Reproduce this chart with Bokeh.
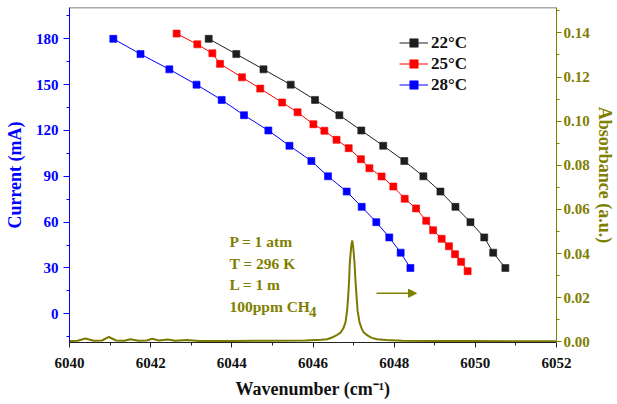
from bokeh.plotting import figure
from bokeh.models import (Range1d, LinearAxis, SingleIntervalTicker, Legend, LegendItem,
                          Label, Arrow, NormalHead, ColumnDataSource, PrintfTickFormatter, Span)
from bokeh.embed import file_html
from bokeh.resources import INLINE

# ---------------- data ----------------
wn_22 = [6043.43, 6044.11, 6044.78, 6045.45, 6046.05, 6046.65, 6047.19, 6047.73,
         6048.25, 6048.72, 6049.14, 6049.51, 6049.88, 6050.22, 6050.44, 6050.74]
cur_22 = [180, 170, 160, 150, 140, 130, 120, 110, 100, 90, 80, 70, 60, 50, 40, 30]

wn_25 = [6042.64, 6043.15, 6043.52, 6043.71, 6044.25, 6044.70, 6045.24, 6045.62,
         6046.01, 6046.28, 6046.58, 6046.88, 6047.18, 6047.39, 6047.69, 6047.98,
         6048.26, 6048.54, 6048.79, 6048.96, 6049.17, 6049.35, 6049.50, 6049.65, 6049.81]
cur_25 = [183.4, 176.4, 170.5, 163.6, 154.8, 147.4, 138.3, 131.9,
          124.1, 119.8, 113.9, 108.4, 101.2, 95.3, 89.9, 83.3,
          75.3, 69.0, 60.9, 54.7, 49.1, 44.2, 39.0, 34.0, 27.9]

wn_28 = [6041.08, 6041.75, 6042.46, 6043.13, 6043.75, 6044.30, 6044.90, 6045.42,
         6045.96, 6046.37, 6046.83, 6047.20, 6047.56, 6047.88, 6048.16, 6048.40]
cur_28 = [180, 170, 160, 150, 140, 130, 120, 110, 100, 90, 80, 70, 60, 50, 40, 30]

spec_wn = [6040.0, 6040.2, 6040.39, 6040.6, 6040.8, 6040.97, 6041.15, 6041.35, 6041.5,
           6041.7, 6041.9, 6042.04, 6042.2, 6042.42, 6042.6, 6042.9, 6043.2, 6044.0,
           6045.0, 6045.8, 6046.2, 6046.35, 6046.5, 6046.6, 6046.68, 6046.75, 6046.80,
           6046.84, 6046.868, 6046.89, 6046.907, 6046.94, 6046.966, 6046.99, 6047.023,
           6047.045, 6047.072, 6047.10, 6047.146, 6047.20, 6047.25, 6047.35, 6047.45,
           6047.58, 6047.8, 6048.2, 6049.0, 6050.0, 6051.0, 6052.0]
spec_abs = [0.0004, 0.0005, 0.0015, 0.0005, 0.0006, 0.0022, 0.0006, 0.0005, 0.0012,
            0.0005, 0.0006, 0.0014, 0.0006, 0.0011, 0.0005, 0.0008, 0.0004, 0.0004,
            0.0005, 0.0006, 0.0009, 0.0012, 0.0022, 0.0032, 0.0042, 0.0062, 0.0088,
            0.0140, 0.0208, 0.0280, 0.0358, 0.0430, 0.0460, 0.0432, 0.0358,
            0.0280, 0.0208, 0.0140, 0.0088, 0.0060, 0.0042, 0.0028, 0.0018,
            0.0012, 0.0008, 0.0005, 0.0004, 0.0004, 0.0003, 0.0003]

x_ticks_step = 2
left_ticks_step = 30
right_ticks_step = 0.02

# ---------------- styles ----------------
FONT = "Liberation Serif"
OLIVE = "#808000"
BLUE = "#0000ff"

p = figure(width=617, height=404, output_backend="svg", toolbar_location=None,
           x_range=Range1d(6040, 6052), y_range=Range1d(-18.8, 200.5),
           min_border_left=69, min_border_right=61, min_border_top=7, min_border_bottom=62)
p.extra_y_ranges = {"abs": Range1d(-0.0003, 0.1515)}
p.grid.visible = False
p.outline_line_color = None

# bottom axis
xa = p.xaxis[0]
xa.ticker = SingleIntervalTicker(interval=x_ticks_step, num_minor_ticks=2)
xa.axis_label = "Wavenumber (cm\u207b\u00b9)"
xa.axis_label_text_font = FONT
xa.axis_label_text_font_style = "bold"
xa.axis_label_text_font_size = "18px"
xa.axis_label_text_color = "#111111"
xa.axis_label_standoff = 8
xa.major_label_text_font = FONT
xa.major_label_text_font_style = "bold"
xa.major_label_text_font_size = "15px"
xa.major_label_text_color = "#111111"
xa.major_label_standoff = 10
xa.axis_line_color = "#222222"
xa.major_tick_line_color = "#222222"
xa.minor_tick_line_color = "#222222"
xa.major_tick_out = 5
xa.major_tick_in = 0
xa.minor_tick_out = 3
xa.minor_tick_in = 0

# left axis
ya = p.yaxis[0]
ya.ticker = SingleIntervalTicker(interval=left_ticks_step, num_minor_ticks=2)
ya.axis_label = "Current (mA)"
ya.axis_label_text_font = FONT
ya.axis_label_text_font_style = "bold"
ya.axis_label_text_font_size = "18px"
ya.axis_label_text_color = BLUE
ya.axis_label_standoff = 8
ya.major_label_text_font = FONT
ya.major_label_text_font_style = "bold"
ya.major_label_text_font_size = "15px"
ya.major_label_text_color = BLUE
ya.major_label_standoff = 5
ya.axis_line_color = BLUE
ya.major_tick_line_color = BLUE
ya.minor_tick_line_color = BLUE
ya.major_tick_out = 6
ya.major_tick_in = 0
ya.minor_tick_out = 3
ya.minor_tick_in = 0

# right axis
ra = LinearAxis(y_range_name="abs",
                ticker=SingleIntervalTicker(interval=right_ticks_step, num_minor_ticks=2),
                formatter=PrintfTickFormatter(format="%.2f"))
ra.axis_label = "Absorbance (a.u.)"
ra.axis_label_text_font = FONT
ra.axis_label_text_font_style = "bold"
ra.axis_label_text_font_size = "18px"
ra.axis_label_text_color = OLIVE
ra.axis_label_standoff = 2
ra.major_label_text_font = FONT
ra.major_label_text_font_style = "bold"
ra.major_label_text_font_size = "15px"
ra.major_label_text_color = OLIVE
ra.major_label_standoff = 2
ra.axis_line_color = OLIVE
ra.major_tick_line_color = OLIVE
ra.minor_tick_line_color = OLIVE
ra.major_tick_out = 5
ra.major_tick_in = 0
ra.minor_tick_out = 3
ra.minor_tick_in = 0
p.add_layout(ra, "right")

# top frame line
p.add_layout(Span(location=200.5, dimension="width", line_color="#555555", line_width=1.5))

# spectrum
p.line(spec_wn, spec_abs, y_range_name="abs", line_color="#7a7a00", line_width=2)

# series
items = []
for wn, cur, col, lab in [(wn_22, cur_22, "#1e1e1e", "22\u00b0C"),
                          (wn_25, cur_25, "#ff0000", "25\u00b0C"),
                          (wn_28, cur_28, "#0000ff", "28\u00b0C")]:
    src = ColumnDataSource(dict(x=wn, y=cur))
    l = p.line("x", "y", source=src, line_color=col, line_width=1)
    s = p.scatter("x", "y", source=src, marker="square", size=7,
                  fill_color=col, line_color=col, line_alpha=0.6)
    items.append(LegendItem(label=lab, renderers=[l, s]))

leg = Legend(items=items, location=(330, 247), border_line_color=None,
             background_fill_alpha=0, padding=0, margin=0, spacing=0,
             glyph_width=29, glyph_height=21, label_height=21, label_standoff=3,
             label_text_font=FONT, label_text_font_style="bold",
             label_text_font_size="17px", label_text_color="#111111")
p.add_layout(leg, "center")

# annotation text
ann = [("P = 1 atm", 47.3), ("T = 296 K", 32.9), ("L = 1 m", 18.9), ("100ppm CH", 4.8)]
for t, yv in ann:
    p.add_layout(Label(x=6043.94, y=yv, text=t, text_font=FONT, text_font_style="bold",
                       text_font_size="15.5px", text_color=OLIVE, text_baseline="middle"))
p.add_layout(Label(x=6045.90, y=1.2, text="4", text_font=FONT, text_font_style="bold",
                   text_font_size="15px", text_color=OLIVE, text_baseline="middle"))

p.add_layout(Arrow(x_start=6047.565, x_end=6048.55, y_start=0.022, y_end=0.022,
                   y_range_name="abs", line_color=OLIVE, line_width=1.5,
                   end=NormalHead(size=8, fill_color=OLIVE, line_color=OLIVE)))

open("out.html", "w").write(file_html(p, INLINE))
